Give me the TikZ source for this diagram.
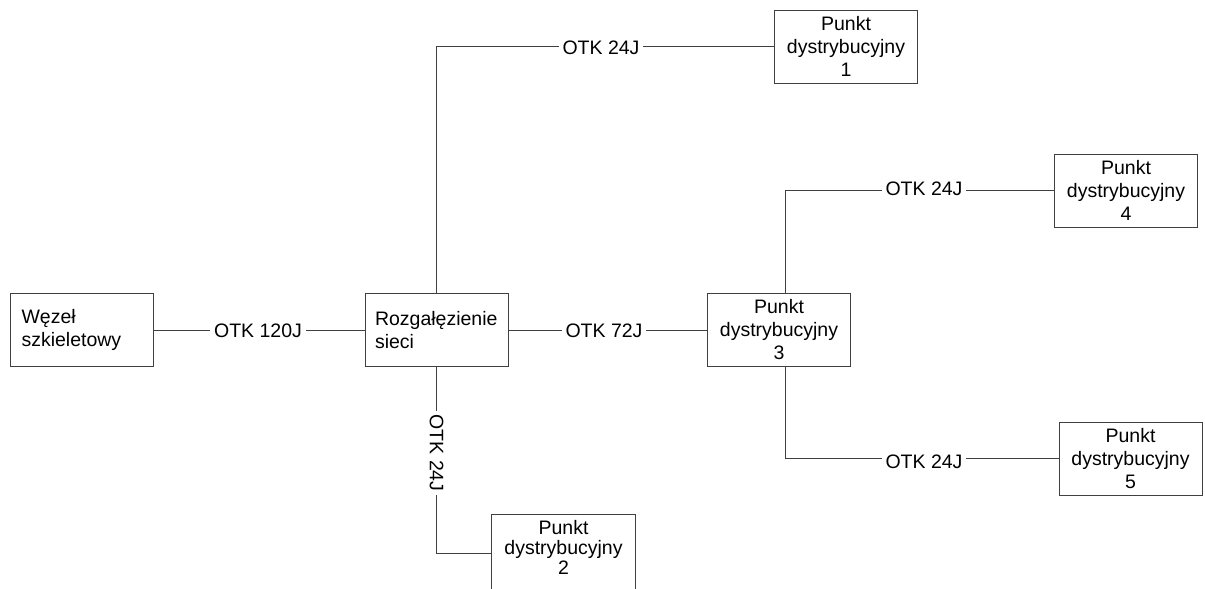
\documentclass[tikz,border=0pt]{standalone}
\usepackage{fontspec}
\setmainfont{Liberation Sans}
\begin{document}
\begin{tikzpicture}[x=1pt,y=-1pt,
  box/.style={draw=black!75, line width=1pt, minimum width=143pt, minimum height=73pt, inner sep=0pt, align=center, font=\fontsize{19.5}{23}\selectfont},
  lbox/.style={box, align=flush left, text width=123pt},
  wire/.style={draw=black!75, line width=1pt},
  lab/.style={fill=white, inner xsep=4pt, inner ysep=2pt, font=\fontsize{19.5}{23}\selectfont}]
\useasboundingbox (0,0) rectangle (1205,589);
\begin{scope}
\clip (0,0) rectangle (1205,589);
\node[lbox, text width=120pt] (w) at (81.5,330) {Węzeł\\szkieletowy};
\node[lbox] (r) at (436.5,330) {Rozgałęzienie\\sieci};
\node[box] (p1) at (846,46.5) {Punkt\\dystrybucyjny\\1};
\node[box, draw=none, minimum height=64pt, font=\fontsize{19.5}{20}\selectfont] (p2) at (563.5,547) {Punkt\\dystrybucyjny\\2};
\draw[wire] ([yshift=-30pt]p2.south west) -- (p2.north west) -- (p2.north east) -- ([yshift=-30pt]p2.south east);
\node[box] (p3) at (779,330) {Punkt\\dystrybucyjny\\3};
\node[box] (p4) at (1126,190.5) {Punkt\\dystrybucyjny\\4};
\node[box] (p5) at (1130.5,458.5) {Punkt\\dystrybucyjny\\5};
\draw[wire] (w) -- (r);
\draw[wire] (r.north) |- (p1.west);
\draw[wire] (r.south) |- ([yshift=-6pt]p2.west);
\draw[wire] (r) -- (p3);
\draw[wire] ([xshift=6pt]p3.north) |- (p4.west);
\draw[wire] ([xshift=6pt]p3.south) |- (p5.west);
\node[lab] (l1) at (258,331) {OTK 120J};
\node[lab] (l2) at (601,48) {OTK 24J};
\node[lab, rotate=-90] (l3) at (436.5,453) {OTK 24J};
\node[lab] (l4) at (604,331) {OTK 72J};
\node[lab] (l5) at (924,189) {OTK 24J};
\node[lab] (l6) at (924,462) {OTK 24J};
\end{scope}
\end{tikzpicture}
\end{document}
